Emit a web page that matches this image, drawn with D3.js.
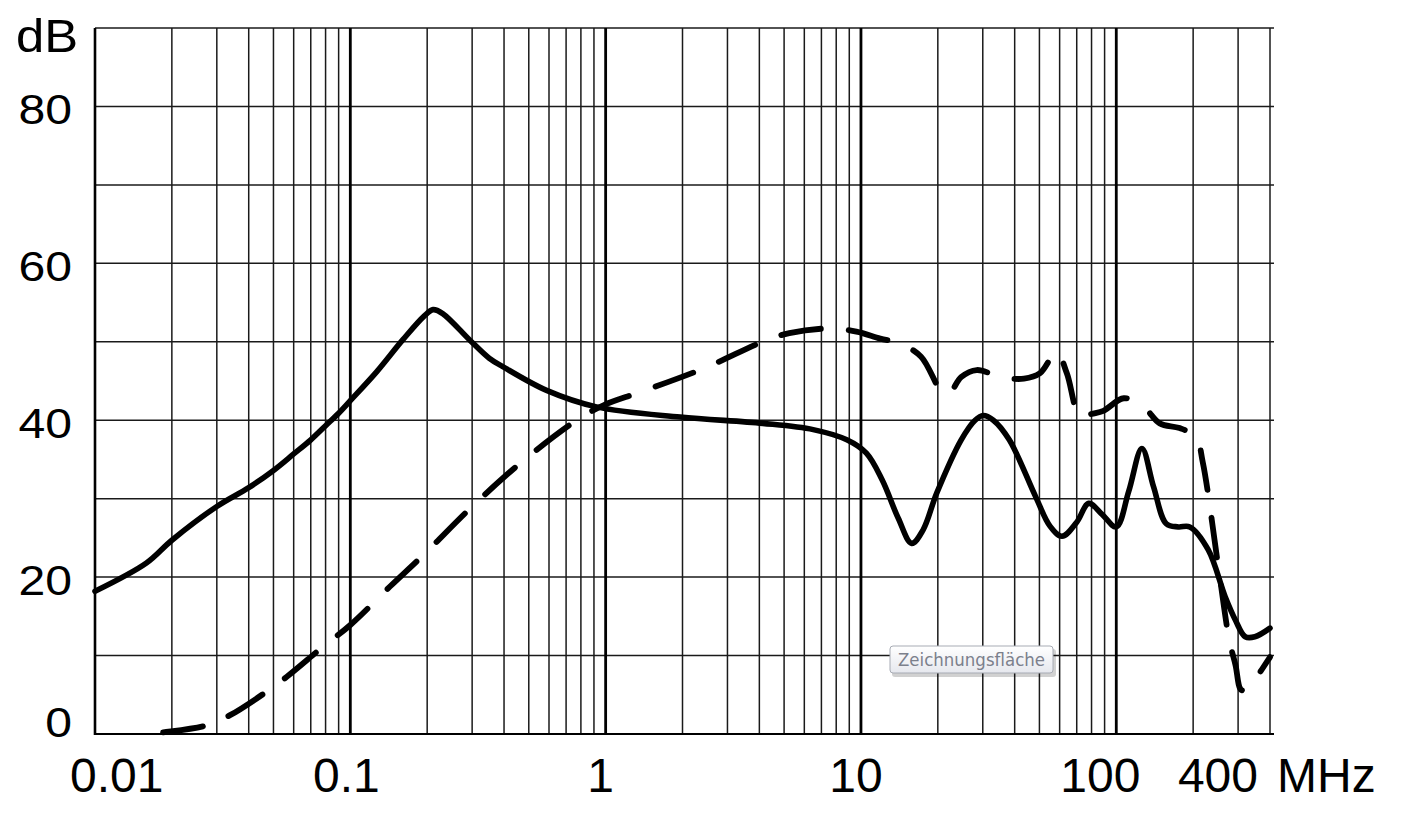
<!DOCTYPE html>
<html>
<head>
<meta charset="utf-8">
<script src="https://cdn.jsdelivr.net/npm/d3@7"></script>
<style>
  html, body { margin: 0; padding: 0; background: #fff; }
  svg { display: block; }
  text { font-family: "Liberation Sans", Arial, sans-serif; fill: #000; }
</style>
</head>
<body>
<svg id="chart" width="1408" height="817"></svg>
<script>
// ---- data (frequency in MHz, attenuation in dB) ----
const solidFreq = [0.01, 0.0159, 0.02, 0.03, 0.04, 0.05, 0.06, 0.07, 0.08, 0.09, 0.1, 0.127, 0.161, 0.195, 0.211, 0.23, 0.294, 0.35, 0.397, 0.587, 0.92, 1.96, 4.13, 6.5, 8.8, 10.5, 12.1, 14, 15.8, 17.5, 19.8, 24.7, 28, 30.1, 33, 38.1, 48.4, 55, 61.3, 70, 78, 88, 100, 112, 126, 140, 157, 175, 194, 229, 267, 293, 320, 349, 400];
const solidDb   = [18.2, 21.8, 24.7, 29.0, 31.4, 33.6, 35.7, 37.5, 39.3, 40.9, 42.5, 46.2, 50.3, 53.3, 54.1, 53.6, 50.2, 47.9, 46.8, 43.8, 41.7, 40.4, 39.6, 38.8, 37.5, 35.8, 32.4, 27.5, 24.3, 26.0, 30.7, 37.5, 40.0, 40.6, 40.0, 37.5, 30.2, 26.5, 25.2, 27.0, 29.4, 28.0, 26.4, 31.0, 36.4, 31.5, 26.8, 26.4, 26.4, 23.5, 17.5, 14.5, 12.4, 12.4, 13.5];

const dashFreq = [0.0163, 0.0185, 0.0274, 0.0338, 0.047, 0.0564, 0.078, 0.1, 0.143, 0.193, 0.30, 0.47, 0.77, 0.98, 1.37, 2.42, 4.26, 5.24, 7.5, 9.6, 11.9, 14.2, 17.2, 21, 22.3, 24.7, 28.4, 35.3, 43.5, 50.3, 58.4, 64, 72.3, 80, 89, 107, 128, 148, 177, 205, 218, 253, 277, 293, 309, 330, 349, 400];
const dashDb   = [0, 0.2, 1.1, 2.4, 5.4, 7.3, 11.1, 13.9, 18.8, 22.8, 29.0, 34.7, 40.0, 41.9, 43.6, 46.6, 50.2, 51.1, 51.7, 51.3, 50.4, 49.8, 48.1, 43.4, 43.5, 45.5, 46.4, 45.5, 45.3, 46.0, 48.7, 46.0, 40.4, 40.8, 41.2, 42.8, 41.7, 39.6, 39.0, 37.9, 34.7, 20.5, 12.0, 8.8, 5.6, 5.8, 6.9, 9.8];

const xTickLabels = ["0.01", "0.1", "1", "10", "100", "400"];
const xTickValues = [0.01, 0.1, 1, 10, 100, 400];
const yTickValues = [0, 20, 40, 60, 80];
const yUnit = "dB";
const xUnit = "MHz";
const tooltipText = "Zeichnungsfläche";

// ---- layout ----
const svg = d3.select("#chart");
const pLeft = 95, pRight = 1270, pTop = 28, pBottom = 734;
const x = d3.scaleLog().domain([0.01, 400]).range([pLeft, pRight]);
const y = d3.scaleLinear().domain([0, 90]).range([pBottom, pTop]);

const grid = svg.append("g");
// horizontal gridlines
grid.selectAll("line.h").data(d3.range(10, 91, 10)).join("line")
  .attr("x1", pLeft).attr("x2", pRight + 4)
  .attr("y1", d => y(d)).attr("y2", d => y(d))
  .attr("stroke", "#1a1a1a").attr("stroke-width", 1.5);

// vertical minor gridlines
const minor = [];
[0.01, 0.1, 1, 10, 100].forEach(dec => {
  for (let k = 2; k <= 9; k++) { const v = dec * k; if (v <= 400 + 1e-9) minor.push(v); }
});
grid.selectAll("line.v").data(minor).join("line")
  .attr("x1", d => x(d)).attr("x2", d => x(d))
  .attr("y1", pTop).attr("y2", pBottom)
  .attr("stroke", "#1a1a1a").attr("stroke-width", 1.5);

// decade lines (thicker)
grid.selectAll("line.d").data([0.1, 1, 10, 100]).join("line")
  .attr("x1", d => x(d)).attr("x2", d => x(d))
  .attr("y1", pTop).attr("y2", pBottom)
  .attr("stroke", "#000").attr("stroke-width", 2.8);

// axis lines
grid.append("line").attr("x1", x(0.01)).attr("x2", x(0.01)).attr("y1", pTop).attr("y2", pBottom + 1)
  .attr("stroke", "#000").attr("stroke-width", 2.6);
grid.append("line").attr("x1", pLeft).attr("x2", pRight + 4).attr("y1", y(0)).attr("y2", y(0))
  .attr("stroke", "#000").attr("stroke-width", 2.2);

// ---- curves ----
const line = d3.line().x(d => x(d[0])).y(d => y(d[1])).curve(d3.curveCatmullRom.alpha(0.5));
const solidData = solidFreq.map((f, i) => [f, solidDb[i]]);
const dashData = dashFreq.map((f, i) => [f, dashDb[i]]);

svg.append("path").datum(dashData).attr("d", line)
  .attr("fill", "none").attr("stroke", "#000").attr("stroke-width", 5.8)
  .attr("stroke-linecap", "round").attr("stroke-linejoin", "round")
  .attr("stroke-dasharray", "40 28").attr("stroke-dashoffset", 54);

svg.append("path").datum(solidData).attr("d", line)
  .attr("fill", "none").attr("stroke", "#000").attr("stroke-width", 5.6)
  .attr("stroke-linecap", "round").attr("stroke-linejoin", "round");

// ---- y labels ----
const yl = svg.append("g");
yl.selectAll("text").data(yTickValues).join("text")
  .attr("text-anchor", "end")
  .attr("transform", d => `translate(72,${y(d) + (d === 0 ? 3 : 18)}) scale(1.12,1)`)
  .attr("font-size", 43)
  .text(d => d);
yl.append("text").attr("text-anchor", "start")
  .attr("transform", `translate(16,52) scale(1.08,1)`)
  .attr("font-size", 47)
  .text(yUnit);

// ---- x labels ----
const xl = svg.append("g");
const xAnchor = ["start", "middle", "middle", "middle", "middle", "end"];
const xShift = [-25, -4, -5, -5, -16, -12];
xl.selectAll("text").data(xTickValues).join("text")
  .attr("x", (d, i) => x(d) + xShift[i])
  .attr("y", 792)
  .attr("text-anchor", (d, i) => xAnchor[i])
  .attr("font-size", 48)
  .text((d, i) => xTickLabels[i]);
xl.append("text").attr("x", x(400) + 7).attr("y", 792)
  .attr("text-anchor", "start").attr("font-size", 48).text(xUnit);

// ---- tooltip artifact ----
const defs = svg.append("defs");
const grad = defs.append("linearGradient").attr("id", "tipg").attr("x1", 0).attr("y1", 0).attr("x2", 0).attr("y2", 1);
grad.append("stop").attr("offset", "0%").attr("stop-color", "#ffffff");
grad.append("stop").attr("offset", "100%").attr("stop-color", "#e6e8ee");
const tip = svg.append("g").attr("transform", "translate(890,646)");
tip.append("rect").attr("x", 2).attr("y", 3).attr("width", 164).attr("height", 28).attr("rx", 3)
  .attr("fill", "#000").attr("opacity", 0.18);
tip.append("rect").attr("x", 0).attr("y", 0).attr("width", 163).attr("height", 27).attr("rx", 3)
  .attr("fill", "url(#tipg)").attr("stroke", "#a7abb4").attr("stroke-width", 1);
tip.append("text").attr("x", 8).attr("y", 20).attr("font-size", 17)
  .attr("textLength", 147).attr("lengthAdjust", "spacingAndGlyphs")
  .style("font-family", "'DejaVu Sans', sans-serif").style("fill", "#7b808c")
  .text(tooltipText);
</script>
</body>
</html>
